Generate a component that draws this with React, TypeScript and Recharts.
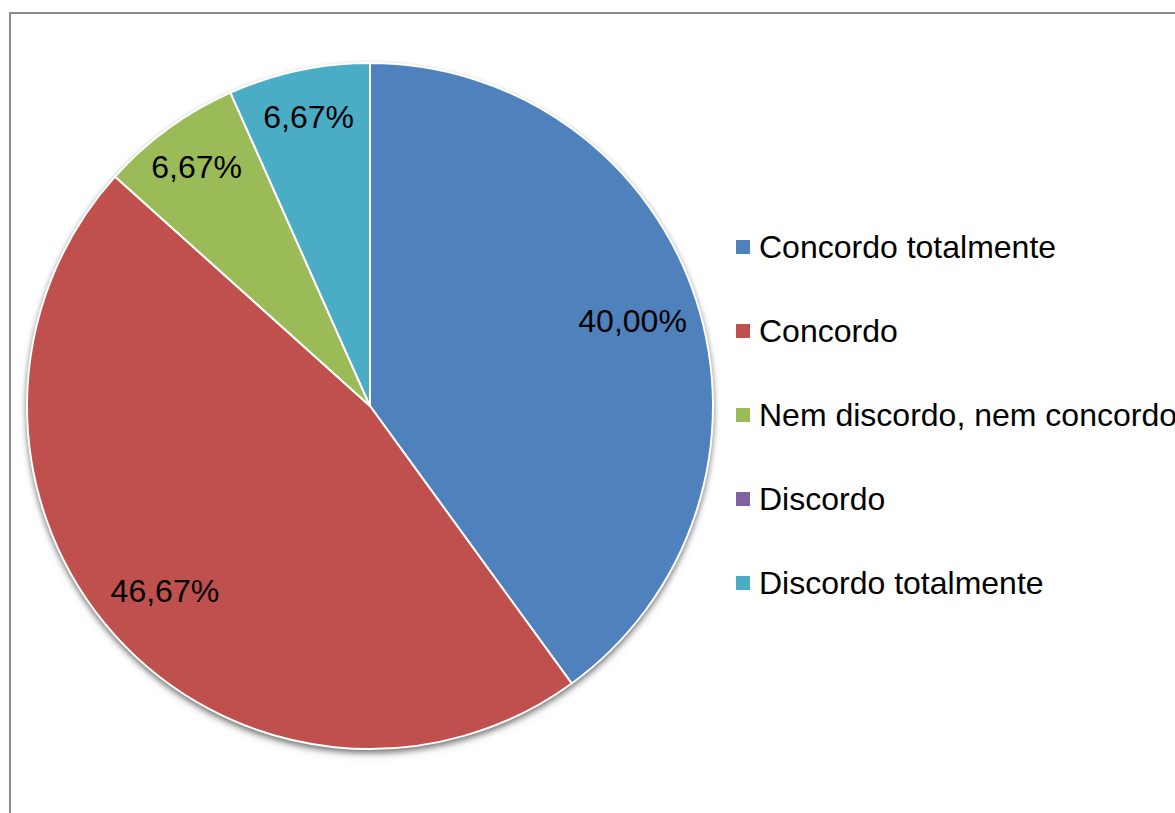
import { PieChart, Pie, Cell, Legend } from 'recharts';

const categories = [
  'Concordo totalmente',
  'Concordo',
  'Nem discordo, nem concordo',
  'Discordo',
  'Discordo totalmente',
];
const shares = [40.0, 46.67, 6.67, 0, 6.67];
const colors = ['#4F81BD', '#C0504D', '#9BBB59', '#8064A2', '#4BACC6'];

const chartData = categories.map((name, i) => ({ name, value: shares[i] }));

const FONT = '"Liberation Sans", Arial, sans-serif';
const RAD = Math.PI / 180;

const formatPct = (v: number) => `${v.toFixed(2).replace('.', ',')}%`;

// percentage labels sit inside the slices, small slices pushed further out
const renderLabel = (props: any) => {
  const { cx, cy, midAngle, outerRadius, value, percent } = props;
  if (!value) return null;
  const r = outerRadius * (percent < 0.1 ? 0.86 : 0.805);
  const x = cx + r * Math.cos(-midAngle * RAD);
  const y = cy + r * Math.sin(-midAngle * RAD);
  return (
    <text
      x={x}
      y={y}
      fill="#000"
      fontSize={32}
      fontFamily={FONT}
      textAnchor="middle"
      dominantBaseline="central"
    >
      {formatPct(value)}
    </text>
  );
};

const renderLegend = () => (
  <div style={{ fontFamily: FONT, fontSize: 32, color: '#000' }}>
    {categories.map((name, i) => (
      <div key={name} style={{ height: 84, display: 'flex', alignItems: 'center', whiteSpace: 'nowrap' }}>
        <span style={{ display: 'inline-block', width: 14, height: 14, background: colors[i], marginRight: 9 }} />
        <span>{name}</span>
      </div>
    ))}
  </div>
);

export default function App() {
  return (
    <div
      style={{
        position: 'absolute',
        left: 0,
        top: 0,
        width: 1175,
        height: 813,
        overflow: 'hidden',
        background: '#fff',
      }}
    >
      <style>{`.pie-shadow { filter: drop-shadow(0px 3px 3px rgba(0,0,0,0.35)); }`}</style>
      <div
        style={{
          position: 'absolute',
          left: 9,
          top: 12,
          width: 1300,
          height: 900,
          border: '2px solid #8c8c8c',
          boxSizing: 'border-box',
        }}
      />
      <div style={{ position: 'absolute', left: 0, top: 0 }}>
        <PieChart width={1175} height={813} margin={{ top: 0, right: 0, bottom: 0, left: 0 }}>
          {/* shadow layer underneath the pie */}
          <Pie
            className="pie-shadow"
            data={chartData}
            dataKey="value"
            nameKey="name"
            cx={370}
            cy={406}
            outerRadius={343}
            startAngle={90}
            endAngle={-270}
            stroke="none"
            label={false}
            labelLine={false}
            legendType="none"
            isAnimationActive={false}
          >
            {chartData.map((d, i) => (
              <Cell key={`s-${d.name}`} fill={colors[i]} />
            ))}
          </Pie>
          <Pie
            data={chartData}
            dataKey="value"
            nameKey="name"
            cx={370}
            cy={406}
            outerRadius={343}
            startAngle={90}
            endAngle={-270}
            stroke="#fff"
            strokeWidth={2}
            label={renderLabel}
            labelLine={false}
            isAnimationActive={false}
          >
            {chartData.map((d, i) => (
              <Cell key={d.name} fill={colors[i]} />
            ))}
          </Pie>
          <Legend
            content={renderLegend}
            layout="vertical"
            wrapperStyle={{ position: 'absolute', left: 736, top: 205, width: 450, bottom: 'auto', right: 'auto' }}
          />
        </PieChart>
      </div>
    </div>
  );
}
